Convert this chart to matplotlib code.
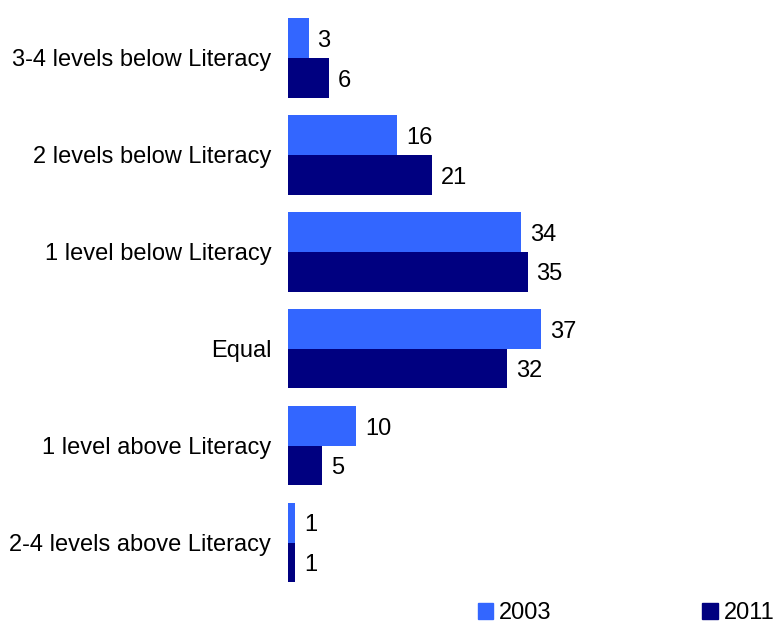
import matplotlib
matplotlib.use("Agg")
import matplotlib.pyplot as plt
from matplotlib.patches import Patch
from matplotlib.transforms import ScaledTranslation
import numpy as np

categories = ["3-4 levels below Literacy", "2 levels below Literacy", "1 level below Literacy",
              "Equal", "1 level above Literacy", "2-4 levels above Literacy"]
series_names = ["2003", "2011"]
values_2003 = [3, 16, 34, 37, 10, 1]
values_2011 = [6, 21, 35, 32, 5, 1]

colors = ["#3366FF", "#000080"]
plt.rcParams['font.family'] = ['Liberation Sans', 'DejaVu Sans']
fs = 17

W, H = 775, 625
fig = plt.figure(figsize=(W / 100, H / 100), dpi=100)
ax_left, ax_right = 288, 767
ax_top, ax_bottom = 9.5, 591
ax = fig.add_axes([ax_left / W, 1 - ax_bottom / H, (ax_right - ax_left) / W, (ax_bottom - ax_top) / H])

y = np.arange(len(categories))
h = 0.41
ax.barh(y - h / 2, values_2003, height=h, color=colors[0], label=series_names[0])
ax.barh(y + h / 2, values_2011, height=h, color=colors[1], label=series_names[1])
for offs, vals in ((-h / 2, values_2003), (h / 2, values_2011)):
    for yi, v in zip(y, vals):
        ax.annotate(str(v), xy=(v, yi + offs), xytext=(6.5, -2), textcoords='offset points',
                    ha='left', va='center', fontsize=fs)

ax.set_xlim(0, 70)
ax.set_ylim(len(categories) - 0.5, -0.5)
ax.set_yticks(y)
ax.set_yticklabels(categories, fontsize=fs)
shift = ScaledTranslation(0, -2 / 72, fig.dpi_scale_trans)
for t in ax.get_yticklabels():
    t.set_transform(t.get_transform() + shift)
ax.tick_params(axis='y', length=0, pad=12)
ax.set_xticks([])
for s in ax.spines.values():
    s.set_visible(False)

handles = [Patch(color=colors[0]), Patch(color=colors[1])]
fig.legend(handles, series_names, loc='center', bbox_to_anchor=(626 / W, 1 - 613 / H), ncol=2,
           frameon=False, fontsize=fs, handlelength=0.65, handleheight=0.65, handletextpad=0.25,
           columnspacing=6.4)

fig.savefig("out.png", dpi=100)
